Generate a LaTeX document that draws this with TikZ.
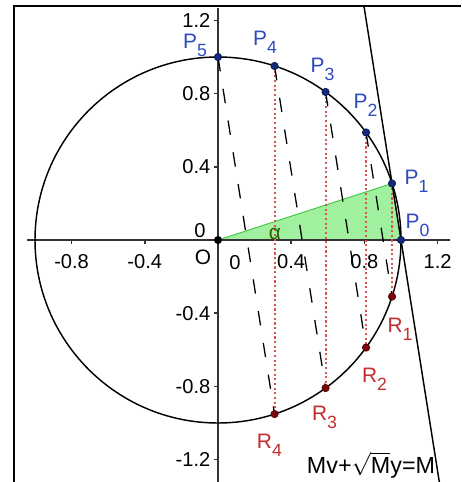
\documentclass[tikz,border=0pt]{standalone}
\usepackage{fontspec}
\setmainfont{Liberation Sans}
\usetikzlibrary{calc}

\definecolor{ptblue}{RGB}{20,40,125}
\definecolor{labblue}{RGB}{45,75,190}
\definecolor{ptred}{RGB}{125,5,10}
\definecolor{labred}{RGB}{195,45,45}
\definecolor{dotred}{RGB}{215,85,85}
\definecolor{wedgefill}{RGB}{160,240,160}
\definecolor{wedgeline}{RGB}{70,200,70}
\definecolor{anglegreen}{RGB}{40,100,0}

% point label with a dropped index
\newcommand{\ptname}[2]{#1\raisebox{-5pt}{\fontsize{11}{11}\selectfont #2}}

\begin{document}
\begin{tikzpicture}[x=4cm, y=4cm,
    every node/.style={font=\fontsize{13}{13}\selectfont},
    axis/.style={line width=0.9pt, draw=black!80},
    ticklab/.style={inner sep=0pt, font=\fontsize{12.5}{13}\selectfont},
    pdot/.style={circle, draw=ptblue!60!black, fill=ptblue, inner sep=0pt, minimum size=4.6pt},
    rdot/.style={circle, draw=ptred!60!black, fill=ptred, inner sep=0pt, minimum size=4.6pt},
    plab/.style={text=labblue, inner sep=0pt},
    rlab/.style={text=labred, inner sep=0pt},
    drop/.style={draw=dotred, line width=1.3pt, dash pattern=on 1.3pt off 1.6pt},
    chord/.style={line width=0.8pt, dash pattern=on 9pt off 11pt},
]
\useasboundingbox (-1.1913,-1.3224) rectangle (1.3279,1.3115);

% Frame
\coordinate (fbl) at (-1.115,-1.3224);
\coordinate (ftl) at (-1.115,1.280);
\coordinate (ftr) at (1.3279,1.280);
\draw[line width=1.4pt] (fbl) -- (ftl) -- (ftr);

% Points on the unit circle
\coordinate (O) at (0,0);
\foreach \k in {0,...,5}
  \coordinate (P\k) at ({18*\k}:1);
\foreach \k in {1,...,4}
  \coordinate (R\k) at ({-18*\k}:1);

% Wedge
\filldraw[fill=wedgefill, draw=wedgeline, line width=0.6pt] (O) -- (P0) -- (P1) -- cycle;

% Axes
\coordinate (xl) at (-1.044,0);
\coordinate (xr) at (1.268,0);
\coordinate (yb) at (0,-1.3224);
\coordinate (yt) at (0,1.27);
\draw[axis] (xl) -- (xr);
\draw[axis] (yb) -- (yt);
\foreach \v in {-0.8,-0.4,0.4,0.8,1.2} {
  \draw[axis] (\v,0) -- (\v,-0.022);
  \node[ticklab] (xt\v) at (\v,-0.12) {\v};
}
\foreach \v in {-1.2,-0.8,-0.4,0.4,0.8,1.2} {
  \draw[axis] (0,\v) -- (-0.022,\v);
  \node[ticklab, anchor=east] (yt\v) at (-0.04,\v) {\v};
}
\node[ticklab] (xzero) at (0.093,-0.126) {0};
\node[ticklab] (yzero) at (-0.098,0.049) {0};

% Circle
\draw[line width=0.9pt] (O) circle (1);

% Vertical drops P_k -> R_k
\foreach \k in {1,...,4}
  \draw[drop] (P\k) -- (R\k);

% Parallel chords P_{k+1} -> R_k
\foreach \k [evaluate=\k as \n using int(\k+1)] in {1,...,4}
  \draw[chord] (P\n) -- (R\k);

% Line through P0 and P1
\coordinate (Ltop) at ($(P0)!4.12!(P1)$);
\coordinate (Lbot) at ($(P0)!-4.28!(P1)$);
\draw[line width=0.9pt] (Ltop) -- (Lbot);

% Dots
\node[circle, fill=black, inner sep=0pt, minimum size=5pt] (Odot) at (O) {};
\foreach \k in {0,...,5}
  \node[pdot] (dP\k) at (P\k) {};
\foreach \k in {1,...,4}
  \node[rdot] (dR\k) at (R\k) {};

% Labels
\node[inner sep=0pt] (lO) at (-0.082,-0.093) {O};
\node[plab] (lP0) at (1.090,0.079) {\ptname{P}{0}};
\node[plab] (lP1) at (1.085,0.320) {\ptname{P}{1}};
\node[plab] (lP2) at (0.806,0.735) {\ptname{P}{2}};
\node[plab] (lP3) at (0.571,0.932) {\ptname{P}{3}};
\node[plab] (lP4) at (0.257,1.079) {\ptname{P}{4}};
\node[plab] (lP5) at (-0.125,1.066) {\ptname{P}{5}};
\node[rlab] (lR1) at (0.995,-0.489) {\ptname{R}{1}};
\node[rlab] (lR2) at (0.855,-0.762) {\ptname{R}{2}};
\node[rlab] (lR3) at (0.582,-0.970) {\ptname{R}{3}};
\node[rlab] (lR4) at (0.281,-1.123) {\ptname{R}{4}};
\node[text=anglegreen, inner sep=0pt, font=\fontsize{13}{13}\selectfont] (alpha) at (0.311,0.033) {α};
\node[inner sep=0pt, font=\fontsize{14.5}{15}\selectfont] (eqn) at (0.836,-1.230) {Mv+$\sqrt{\hbox{M}}$y=M};
\end{tikzpicture}
\end{document}
